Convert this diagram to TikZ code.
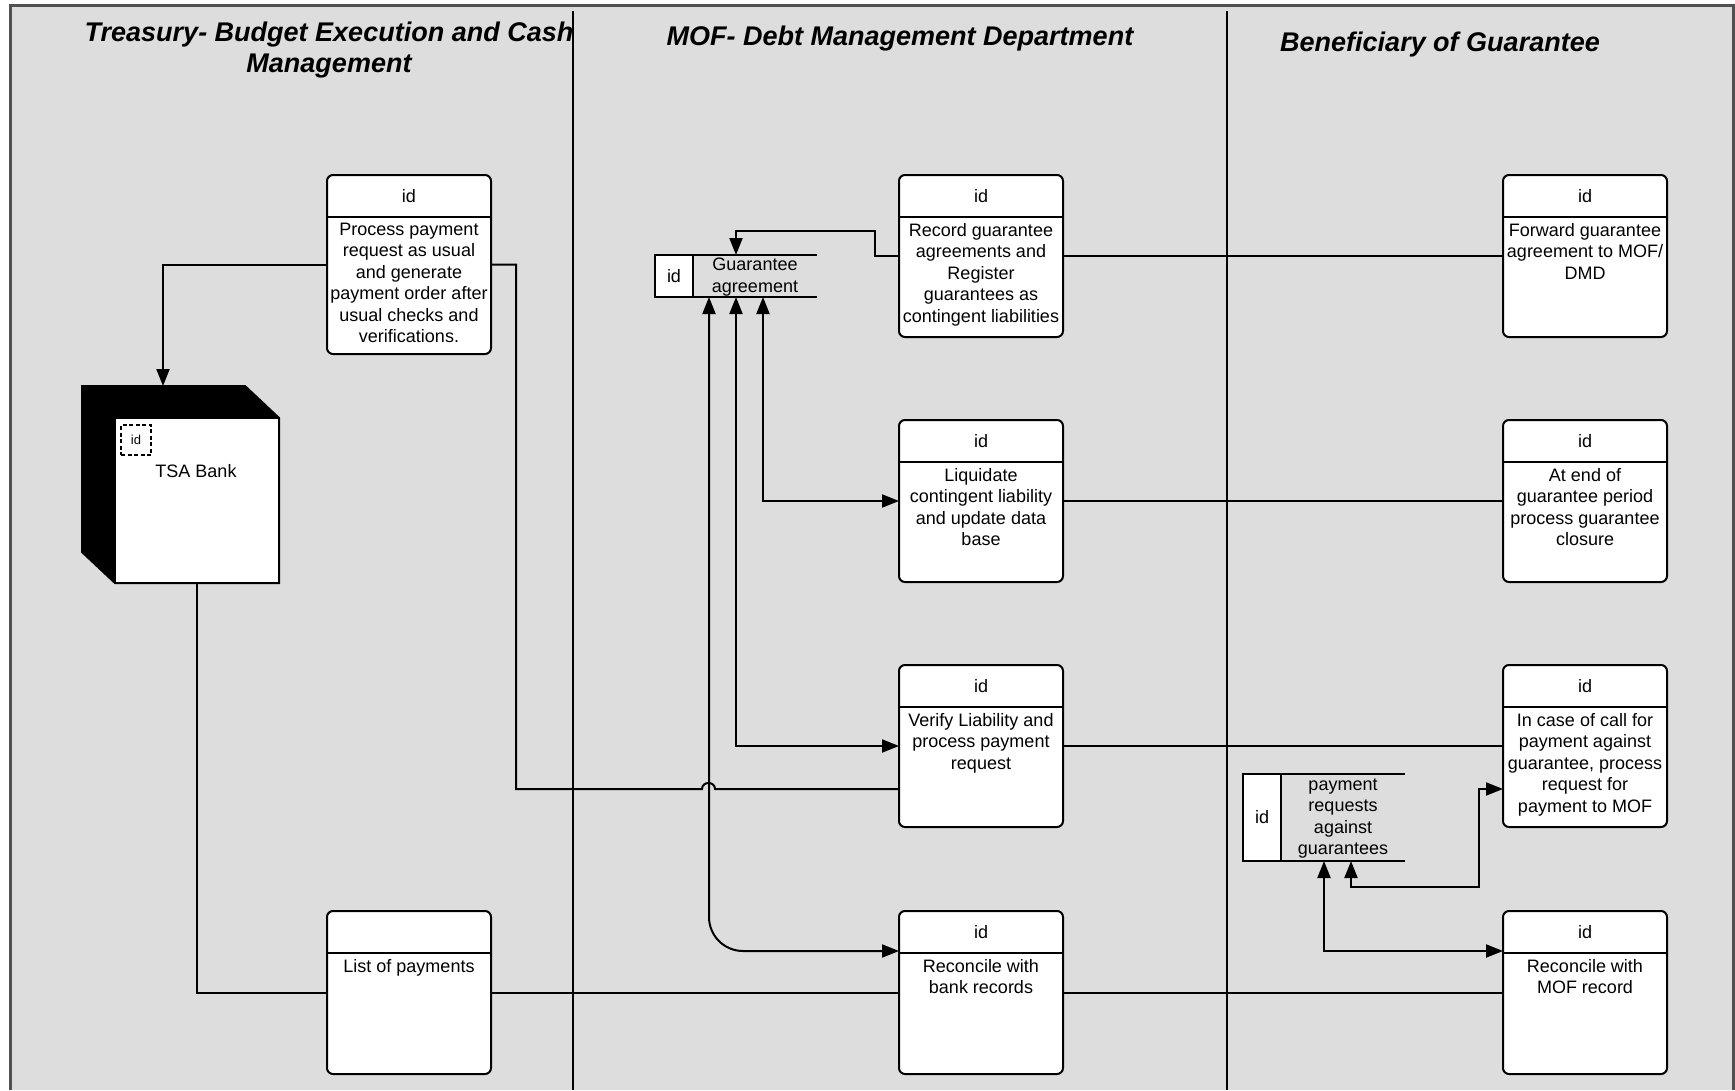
\documentclass[tikz,border=0pt]{standalone}
\usepackage{fontspec}
\setmainfont{Liberation Sans}
\usetikzlibrary{arrows.meta,calc}
\definecolor{lanefill}{RGB}{221,221,221}
\definecolor{frameline}{RGB}{80,80,80}

% process box: name, left x, top y, height, header, body
\newcommand{\procbox}[6]{%
  \node[proc, minimum height=#4pt, anchor=north west] (#1) at (#2,#3) {};
  \draw ($(#1.north west)+(0,42)$) -- ($(#1.north east)+(0,42)$);
  \node (#1-id) at ($(#1.north)+(0,21)$) {#5};
  \node[anchor=north, align=center] (#1-txt) at ($(#1.north)+(0,48)$) {#6};
}
% data store: name, left x, top y, height, body
\newcommand{\storebox}[5]{%
  \node[minimum width=162pt, minimum height=#4pt, anchor=north west] (#1) at (#2,#3) {};
  \draw (#1.north west) -- (#1.north east);
  \draw (#1.south west) -- (#1.south east);
  \node[draw, fill=white, minimum width=38pt, minimum height=#4pt, anchor=north west] (#1-id) at (#1.north west) {id};
  \node[align=center] (#1-txt) at ($(#1.center)+(19,1)$) {#5};
}

\begin{document}
\begin{tikzpicture}[x=1pt, y=-1pt, line width=2pt,
  every node/.style={font=\fontsize{18}{21.5}\selectfont, inner sep=0pt, outer sep=0pt},
  proc/.style={draw, fill=white, rounded corners=6pt, minimum width=164pt},
  lanetitle/.style={font=\fontsize{27}{31}\selectfont\bfseries\itshape, align=center},
  arr/.style={-{Triangle[length=17pt,width=13pt]}},
  biarr/.style={{Triangle[length=17pt,width=13pt]}-{Triangle[length=17pt,width=13pt]}},
  lane/.style={line width=2pt}]

\useasboundingbox (0,0) rectangle (1735,1090);

% swimlane background and frame
\fill[lanefill] (10,5) rectangle (1733,1090);
\draw[frameline, line width=3pt] (10,1090) -- (10,5) -- (1733,5) -- (1733,1090);
\draw[lane] (573,11) -- (573,1090);
\draw[lane] (1227,11) -- (1227,1090);

% lane titles
\node[lanetitle, anchor=north] (lt1) at (329,22) {Treasury- Budget Execution and Cash\\Management};
\node[lanetitle, anchor=base] (lt2) at (900,45) {MOF- Debt Management Department};
\node[lanetitle, anchor=base] (lt3) at (1440,51) {Beneficiary of Guarantee};

% processes
\procbox{pay}{327}{175}{179}{id}{Process payment\\request as usual\\and generate\\payment order after\\usual checks and\\verifications.}
\procbox{rec}{899}{175}{162}{id}{Record guarantee\\agreements and\\Register\\guarantees as\\contingent liabilities}
\procbox{fwd}{1503}{175}{162}{id}{Forward guarantee\\agreement to MOF/\\DMD}
\procbox{liq}{899}{420}{162}{id}{Liquidate\\contingent liability\\and update data\\base}
\procbox{clo}{1503}{420}{162}{id}{At end of\\guarantee period\\process guarantee\\closure}
\procbox{ver}{899}{665}{162}{id}{Verify Liability and\\process payment\\request}
\procbox{call}{1503}{665}{162}{id}{In case of call for\\payment against\\guarantee, process\\request for\\payment to MOF}
\procbox{lst}{327}{911}{163}{}{List of payments}
\procbox{rbk}{899}{911}{163}{id}{Reconcile with\\bank records}
\procbox{rmof}{1503}{911}{163}{id}{Reconcile with\\MOF record}

% data stores
\storebox{gag}{655}{255}{42}{Guarantee\\agreement}
\storebox{prq}{1243}{774}{87}{payment\\requests\\against\\guarantees}

% external entity: TSA Bank
\node[minimum width=197pt, minimum height=197pt, anchor=north west] (tsa) at (82,386) {};
\filldraw (tsa.north west) -- ($(tsa.north east)+(-34,0)$) -- ($(tsa.north east)+(0,32)$)
  -- (tsa.south east) -- ($(tsa.south west)+(33,0)$) -- ($(tsa.south west)+(0,-31)$) -- cycle;
\node[draw, fill=white, minimum width=164pt, minimum height=165pt, anchor=south east] (tsaface) at (tsa.south east) {};
\node[draw, fill=white, line width=1.5pt, dash pattern=on 4pt off 2.5pt, minimum size=30pt,
  anchor=north west, font=\fontsize{13}{13}\selectfont] (tsaid) at ($(tsaface.north west)+(6,7)$) {id};
\node (tsalabel) at ($(tsaface.north west)+(81,53)$) {TSA Bank};

% flows
\draw[arr] (pay.west) -| ($(tsa.north west)+(81,0)$);
\draw (tsaface.south) |- (lst.west);
\draw (lst.east) -- (rbk.west);
\draw (rbk.east) -- (rmof.west);
\draw (rec.east) -- (fwd.west);
\draw (liq.east) -- (clo.west);
\draw (ver.east) -- (call.west);

\draw[arr] (rec.west) -- ++(-24,0) |- ($(gag.north)+(0,-24)$) -- (gag.north);
\draw[biarr] (liq.west) -| ($(gag.south)+(27,0)$);
\draw[biarr] (ver.west) -| (gag.south);
\draw[biarr, rounded corners=34pt] ($(rbk.west)+(0,-41.5)$) -| ($(gag.south)+(-27,0)$);

% payment order line, hopping over the store flow
\coordinate (hop) at ($(gag.south)+(-27,0)$);
\draw (pay.east) -- ++(25,0) |- ($(hop |- ver.west)+(-7,43)$)
  .. controls +(0,-8) and +(0,-8) .. ($(hop |- ver.west)+(6,43)$) -- ($(ver.west)+(0,43)$);

\draw[biarr] ($(call.west)+(0,43)$) -- ++(-24,0) |- ($(prq.south)+(27,26)$) -- ($(prq.south)+(27,0)$);
\draw[biarr] ($(rmof.west)+(0,-41.5)$) -| (prq.south);

\end{tikzpicture}
\end{document}
